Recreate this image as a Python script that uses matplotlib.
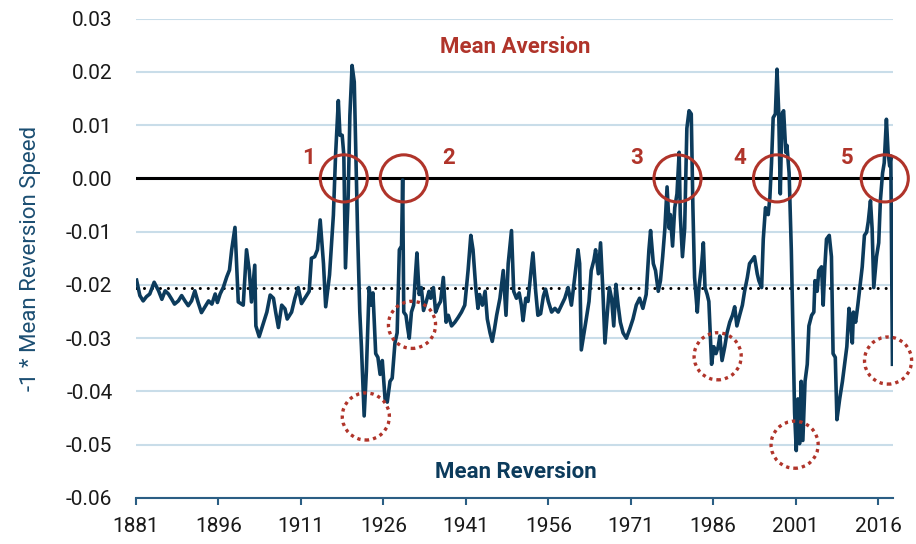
import matplotlib.pyplot as plt

plt.rcParams['font.family'] = ['Roboto', 'DejaVu Sans']

# time axis (fractional years) and -1 * mean reversion speed
years = [
    1881.1, 1881.7, 1882.3, 1882.9, 1883.5, 1884.3, 1885.1, 1885.7, 1886.3, 1886.9,
    1887.5, 1888.0, 1888.7, 1889.3, 1889.9, 1890.5, 1891.1, 1891.7, 1892.3, 1892.9,
    1893.5, 1894.2, 1894.8, 1895.4, 1895.8, 1896.3, 1896.9, 1897.5, 1898.0, 1898.4,
    1899.0, 1899.6, 1900.5, 1901.1, 1901.6, 1902.0, 1902.6, 1902.8, 1903.4, 1904.2,
    1904.8, 1905.4, 1906.0, 1906.4, 1906.9, 1907.5, 1908.1, 1908.5, 1909.3, 1909.9,
    1910.5, 1911.1, 1911.7, 1912.5, 1912.9, 1913.5, 1914.0, 1914.5, 1915.1, 1915.5,
    1916.2, 1916.9, 1917.3, 1917.8, 1918.1, 1918.5, 1918.8, 1919.1, 1919.6, 1919.9,
    1920.3, 1920.7, 1921.0, 1921.3, 1921.7, 1922.0, 1922.5, 1922.9, 1923.4, 1923.8,
    1924.1, 1924.6, 1925.0, 1925.4, 1925.8, 1926.3, 1926.7, 1927.2, 1927.6, 1928.1,
    1928.5, 1928.9, 1929.3, 1929.5, 1929.7, 1930.1, 1930.4, 1930.7, 1931.1, 1931.5,
    1931.8, 1932.1, 1932.5, 1932.9, 1933.3, 1933.8, 1934.3, 1934.6, 1935.1, 1935.5,
    1936.0, 1936.4, 1936.9, 1937.4, 1937.8, 1938.4, 1939.0, 1939.6, 1940.2, 1940.8,
    1941.4, 1941.9, 1942.3, 1942.8, 1943.2, 1943.5, 1944.0, 1944.5, 1944.9, 1945.4,
    1945.8, 1946.2, 1946.6, 1947.2, 1947.8, 1948.3, 1948.7, 1949.3, 1949.7, 1950.2,
    1950.7, 1951.1, 1951.4, 1951.9, 1952.3, 1952.8, 1953.2, 1953.7, 1954.1, 1954.6,
    1955.1, 1955.5, 1956.0, 1956.6, 1957.2, 1957.8, 1958.4, 1959.0, 1959.6, 1960.2,
    1960.8, 1961.4, 1961.7, 1962.0, 1962.5, 1962.9, 1963.4, 1963.8, 1964.3, 1964.6,
    1965.1, 1965.5, 1965.9, 1966.3, 1966.7, 1967.1, 1967.5, 1967.9, 1968.3, 1968.7,
    1969.1, 1969.6, 1970.2, 1970.8, 1971.4, 1972.0, 1972.6, 1973.2, 1973.8, 1974.3,
    1974.6, 1975.1, 1975.5, 1976.0, 1976.4, 1976.8, 1977.2, 1977.6, 1978.0, 1978.2,
    1978.6, 1979.0, 1979.4, 1979.8, 1980.0, 1980.4, 1980.8, 1981.2, 1981.6, 1982.0,
    1982.3, 1982.6, 1983.1, 1983.4, 1983.9, 1984.2, 1984.5, 1984.9, 1985.2, 1985.7,
    1986.1, 1986.5, 1986.9, 1987.2, 1987.6, 1988.1, 1988.5, 1989.0, 1989.5, 1989.9,
    1990.3, 1990.8, 1991.3, 1991.7, 1992.2, 1992.6, 1993.1, 1993.5, 1994.0, 1994.3,
    1994.8, 1995.1, 1995.5, 1996.0, 1996.3, 1996.6, 1996.9, 1997.3, 1997.6, 1997.9,
    1998.2, 1998.5, 1998.8, 1999.2, 1999.4, 1999.8, 2000.2, 2000.5, 2000.8, 2001.1,
    2001.4, 2001.7, 2002.0, 2002.3, 2002.7, 2003.1, 2003.4, 2003.9, 2004.3, 2004.5,
    2004.9, 2005.2, 2005.7, 2006.0, 2006.3, 2006.6, 2007.1, 2007.5, 2007.8, 2008.2,
    2008.5, 2009.0, 2009.5, 2009.9, 2010.3, 2010.7, 2011.0, 2011.3, 2011.5, 2011.9,
    2012.3, 2012.8, 2013.1, 2013.5, 2013.9, 2014.2, 2014.6, 2014.9, 2015.2, 2015.7,
    2016.1, 2016.4, 2016.8, 2017.1, 2017.5, 2017.8, 2018.1, 2018.3, 2018.6,
]
speed = [
    -0.0191, -0.0220, -0.0230, -0.0222, -0.0217, -0.0195, -0.0211, -0.0227, -0.0211, -0.0217,
    -0.0227, -0.0236, -0.0230, -0.0220, -0.0230, -0.0239, -0.0230, -0.0211, -0.0233, -0.0252,
    -0.0242, -0.0230, -0.0236, -0.0217, -0.0233, -0.0217, -0.0204, -0.0185, -0.0172, -0.0134,
    -0.0092, -0.0232, -0.0238, -0.0134, -0.0173, -0.0232, -0.0163, -0.0277, -0.0297, -0.0271,
    -0.0251, -0.0219, -0.0225, -0.0251, -0.0280, -0.0238, -0.0245, -0.0264, -0.0251, -0.0225,
    -0.0205, -0.0235, -0.0225, -0.0212, -0.0150, -0.0147, -0.0134, -0.0078, -0.0160, -0.0241,
    -0.0181, -0.0069, 0.0044, 0.0146, 0.0081, 0.0081, 0.0044, -0.0168, -0.0031, 0.0118,
    0.0212, 0.0181, 0.0044, -0.0100, -0.0250, -0.0316, -0.0446, -0.0362, -0.0205, -0.0238,
    -0.0215, -0.0329, -0.0336, -0.0368, -0.0342, -0.0414, -0.0420, -0.0381, -0.0375, -0.0309,
    -0.0290, -0.0134, -0.0127, -0.0003, -0.0251, -0.0257, -0.0280, -0.0300, -0.0251, -0.0238,
    -0.0186, -0.0140, -0.0218, -0.0205, -0.0248, -0.0231, -0.0212, -0.0225, -0.0205, -0.0251,
    -0.0238, -0.0231, -0.0186, -0.0270, -0.0257, -0.0277, -0.0270, -0.0261, -0.0251, -0.0238,
    -0.0173, -0.0107, -0.0134, -0.0205, -0.0244, -0.0218, -0.0238, -0.0212, -0.0264, -0.0290,
    -0.0306, -0.0283, -0.0257, -0.0225, -0.0173, -0.0257, -0.0160, -0.0098, -0.0212, -0.0225,
    -0.0215, -0.0238, -0.0267, -0.0225, -0.0231, -0.0179, -0.0140, -0.0212, -0.0257, -0.0254,
    -0.0221, -0.0208, -0.0231, -0.0251, -0.0244, -0.0251, -0.0238, -0.0225, -0.0205, -0.0238,
    -0.0186, -0.0134, -0.0160, -0.0322, -0.0290, -0.0264, -0.0231, -0.0173, -0.0153, -0.0134,
    -0.0179, -0.0121, -0.0205, -0.0309, -0.0257, -0.0205, -0.0225, -0.0277, -0.0199, -0.0238,
    -0.0270, -0.0290, -0.0300, -0.0283, -0.0264, -0.0238, -0.0225, -0.0244, -0.0218, -0.0134,
    -0.0098, -0.0160, -0.0173, -0.0212, -0.0192, -0.0147, -0.0094, -0.0016, -0.0094, -0.0068,
    -0.0127, -0.0055, -0.0029, 0.0049, -0.0068, -0.0147, -0.0094, 0.0094, 0.0127, 0.0121,
    -0.0055, -0.0186, -0.0251, -0.0205, -0.0160, -0.0121, -0.0205, -0.0218, -0.0231, -0.0349,
    -0.0316, -0.0329, -0.0316, -0.0296, -0.0342, -0.0316, -0.0290, -0.0270, -0.0257, -0.0241,
    -0.0277, -0.0257, -0.0238, -0.0212, -0.0186, -0.0160, -0.0153, -0.0147, -0.0179, -0.0192,
    -0.0205, -0.0114, -0.0055, -0.0068, -0.0036, 0.0029, 0.0114, 0.0121, 0.0205, 0.0127,
    -0.0029, 0.0121, 0.0127, 0.0049, 0.0062, 0.0010, -0.0134, -0.0283, -0.0440, -0.0511,
    -0.0414, -0.0498, -0.0381, -0.0492, -0.0381, -0.0349, -0.0277, -0.0257, -0.0251, -0.0192,
    -0.0212, -0.0173, -0.0166, -0.0238, -0.0166, -0.0114, -0.0107, -0.0147, -0.0329, -0.0336,
    -0.0453, -0.0414, -0.0381, -0.0349, -0.0316, -0.0244, -0.0270, -0.0309, -0.0251, -0.0270,
    -0.0238, -0.0192, -0.0166, -0.0107, -0.0101, -0.0081, -0.0042, -0.0094, -0.0205, -0.0147,
    -0.0121, -0.0042, 0.0010, 0.0029, 0.0111, 0.0049, 0.0023, 0.0042, -0.0349,
]

long_run_mean = -0.0205

# regime switches (solid circles) and the troughs that followed (dotted circles)
switch_labels = ['1', '2', '3', '4', '5']
switch_years = [1918.8, 1929.7, 1979.5, 1997.6, 2017.2]
label_years = [1912.3, 1937.9, 1972.0, 1990.9, 2010.4]
trough_years = [1922.8, 1931.2, 1986.8, 2000.8, 2017.8]
trough_values = [-0.0447, -0.0275, -0.0334, -0.0500, -0.0342]

tick_years = [1881, 1896, 1911, 1926, 1941, 1956, 1971, 1986, 2001, 2016]
y_ticks = [0.03, 0.02, 0.01, 0.00, -0.01, -0.02, -0.03, -0.04, -0.05, -0.06]

navy = '#0c3b5c'
red = '#b0342a'

fig = plt.figure(figsize=(9.16, 5.44), dpi=100)
ax = fig.add_axes([0.1485, 0.0846, 0.8264, 0.8812])

ax.plot(years, speed, color=navy, lw=2.6, zorder=4, solid_joinstyle='round')
ax.axhline(0, color='black', lw=2.2, zorder=3)
ax.hlines(long_run_mean, 1881, 2017.6, colors='black', lw=2.2,
          linestyles=(0, (0.01, 2.6)), capstyle='round', zorder=3)

ax.scatter(switch_years, [0] * 5, s=1150, facecolors='none', edgecolors=red,
           linewidths=2.2, zorder=5, clip_on=False)
ax.scatter(trough_years, trough_values, s=1150, facecolors='none', edgecolors=red,
           linewidths=2.4, linestyle=(0, (1, 1.2)), zorder=5, clip_on=False)
for lab, yr in zip(switch_labels, label_years):
    ax.text(yr, 0.0039, lab, color=red, fontsize=16, fontweight='bold',
            ha='center', va='center')

ax.text(1950.0, 0.0247, 'Mean Aversion', color=red, fontsize=16,
        fontweight='bold', ha='center', va='center')
ax.text(1950.1, -0.0552, 'Mean Reversion', color=navy, fontsize=16,
        fontweight='bold', ha='center', va='center')

ax.set_xlim(1881, 2018.7)
ax.set_ylim(-0.06, 0.03)
ax.set_xticks(tick_years)
ax.set_xticklabels([str(t) for t in tick_years])
ax.set_yticks(y_ticks)
ax.set_yticklabels(['%.2f' % v for v in y_ticks])
ax.yaxis.grid(True, color='#c9dde9', lw=1.5)
ax.set_axisbelow(True)

for side in ['top', 'right', 'left']:
    ax.spines[side].set_visible(False)
ax.spines['bottom'].set_color('#2b5e84')
ax.spines['bottom'].set_linewidth(1.5)
ax.tick_params(axis='x', direction='out', length=5, width=1.5, color='#2b5e84',
               labelsize=15, labelcolor='#1a1a1a', pad=9)
ax.tick_params(axis='y', length=0, labelsize=15, labelcolor='#1a1a1a', pad=17)

ax.set_ylabel('-1 * Mean Reversion Speed', color='#1b4e72', fontsize=16, labelpad=18)

fig.savefig('out.png', dpi=100)
